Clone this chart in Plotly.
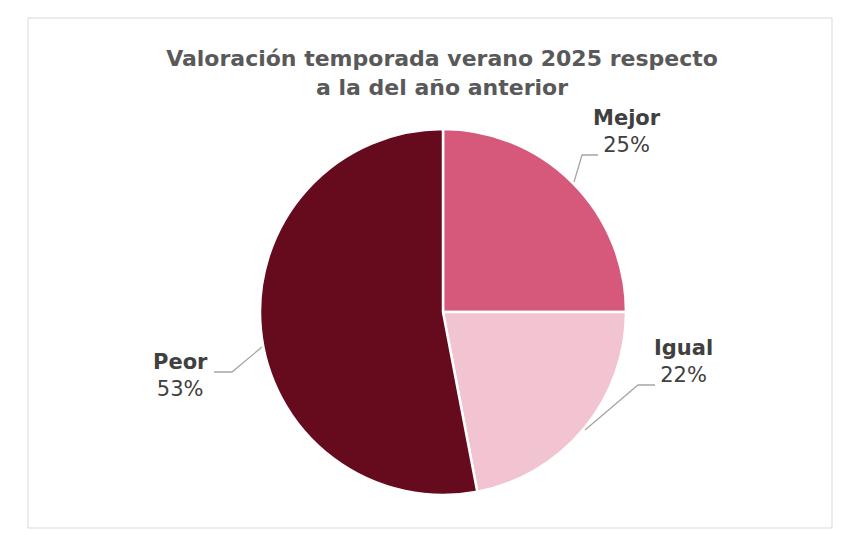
import plotly.graph_objects as go

labels = ["Mejor", "Igual", "Peor"]
values = [25, 22, 53]
colors = ["#D6587A", "#F2C4D2", "#660A1E"]

W, H = 860, 558
OFF = 8  # page offset in the screenshot

def px(x, y):
    return (x - OFF) / W, 1 - (y - OFF) / H

cx0, cy0 = px(443 - 183, 129)
cx1, cy1 = px(443 + 183, 495)
fig = go.Figure(go.Pie(
    labels=labels, values=values, sort=False, direction="clockwise", rotation=0,
    marker=dict(colors=colors, line=dict(color="white", width=2.5)),
    textinfo="none", hoverinfo="label+percent", showlegend=False,
    domain=dict(x=[cx0, cx1], y=[cy1, cy0]),
))

# label positions (pixel) and leader lines
lab_pos = {"Mejor": (627, 131), "Igual": (683, 361), "Peor": (180, 375)}
leaders = {
    "Mejor": [(598, 155), (582, 155), (574, 182)],
    "Igual": [(655, 385), (638, 385), (585, 430)],
    "Peor": [(214, 372), (232, 372), (262, 347)],
}
total = sum(values)
for lab, v in zip(labels, values):
    x, y = px(*lab_pos[lab])
    fig.add_annotation(x=x, y=y, xref="paper", yref="paper", showarrow=False,
                       xanchor="center", yanchor="middle",
                       text=f"<b>{lab}</b><br>{round(100 * v / total)}%",
                       font=dict(size=21, color="#404040", family="DejaVu Sans"), align="center")
    pts = [px(*p) for p in leaders[lab]]
    path = "M " + " L ".join(f"{a},{b}" for a, b in pts)
    fig.add_shape(type="path", xref="paper", yref="paper", path=path,
                  line=dict(color="#A6A6A6", width=1.3))

bx0, by0 = px(28, 18)
bx1, by1 = px(832, 528)
fig.add_shape(type="rect", xref="paper", yref="paper",
              x0=bx0, x1=bx1, y0=by1, y1=by0,
              line=dict(color="#D9D9D9", width=1))

fig.update_layout(
    width=W, height=H, margin=dict(l=0, r=0, t=0, b=0),
    paper_bgcolor="white", plot_bgcolor="white",
    title=dict(text="<b>Valoración temporada verano 2025 respecto<br>a la del año anterior</b>",
               x=(442 - OFF) / W, xanchor="center", y=1 - (66 - OFF) / H, yanchor="middle",
               font=dict(size=22, color="#595959", family="DejaVu Sans")),
)

fig.write_html("out.html")
